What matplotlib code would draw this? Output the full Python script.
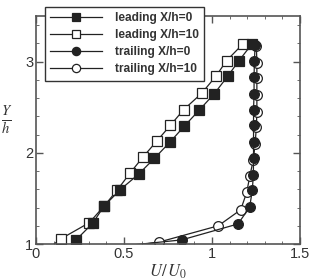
import numpy as np
import matplotlib
matplotlib.use("Agg")
import matplotlib.pyplot as plt
from matplotlib.ticker import MultipleLocator

plt.rcParams['font.family'] = ['Liberation Sans', 'DejaVu Sans']
plt.rcParams['mathtext.fontset'] = 'stix'

# profiles (first point of each lies below y=1, line only)
lead0_u = [0.19, 0.227, 0.322, 0.386, 0.477, 0.583, 0.672, 0.763, 0.843, 0.928, 1.013, 1.089, 1.152, 1.229]
lead0_y = [0.98, 1.044, 1.227, 1.414, 1.593, 1.766, 1.938, 2.121, 2.293, 2.469, 2.648, 2.839, 3.007, 3.198]

lead10_u = [0.09, 0.140, 0.303, 0.386, 0.462, 0.534, 0.606, 0.686, 0.763, 0.839, 0.941, 1.023, 1.083, 1.178]
lead10_y = [0.98, 1.055, 1.234, 1.414, 1.593, 1.777, 1.949, 2.128, 2.300, 2.473, 2.652, 2.842, 3.011, 3.198]

trail0_u = [0.55, 0.828, 1.148, 1.214, 1.229, 1.235, 1.236, 1.236, 1.236, 1.236, 1.239, 1.239, 1.241, 1.245]
trail0_y = [0.99, 1.045, 1.220, 1.405, 1.588, 1.762, 1.945, 2.118, 2.300, 2.470, 2.648, 2.835, 3.007, 3.185]

trail10_u = [0.56, 0.697, 1.036, 1.163, 1.197, 1.215, 1.235, 1.245, 1.252, 1.255, 1.255, 1.255, 1.255, 1.252]
trail10_y = [0.985, 1.020, 1.200, 1.375, 1.565, 1.745, 1.925, 2.100, 2.280, 2.450, 2.630, 2.815, 2.990, 3.170]

labels = ['leading X/h=0', 'leading X/h=10', 'trailing X/h=0', 'trailing X/h=10']

ink = '#222222'
fig = plt.figure(figsize=(3.09, 2.80), dpi=100)
ax = fig.add_axes([36/309, 36/280, 264/309, 228/280])

common = dict(color=ink, lw=0.9, markersize=7, markeredgewidth=0.9,
              markevery=slice(1, None), markeredgecolor=ink)
h2, = ax.plot(lead10_u, lead10_y, marker='s', markerfacecolor='white', **common)
h1, = ax.plot(lead0_u, lead0_y, marker='s', markerfacecolor=ink, **common)
h4, = ax.plot(trail10_u, trail10_y, marker='o', markerfacecolor='white', **common)
h3, = ax.plot(trail0_u, trail0_y, marker='o', markerfacecolor=ink, **common)

ax.set_xlim(0, 1.5)
ax.set_ylim(1, 3.5)
ax.xaxis.set_minor_locator(MultipleLocator(0.1))
ax.yaxis.set_major_locator(MultipleLocator(1))
ax.yaxis.set_minor_locator(MultipleLocator(0.2))
ax.set_xticks([0, 0.5, 1, 1.5])
ax.set_xticklabels(['0', '0.5', '1', '1.5'])
ax.tick_params(which='both', direction='in', top=True, right=True,
               colors='#555555', labelcolor='#333333', labelsize=10.5, pad=2)
ax.tick_params(which='major', length=5, width=1.0)
ax.tick_params(which='minor', length=2.5, width=0.6)
for s in ax.spines.values():
    s.set_color('#555555')
    s.set_linewidth(1.2)

ax.set_xlabel('$U/\\,U_0$', fontsize=12, color='#333333', labelpad=1)
ax.text(-0.11, 0.545, '$\\frac{Y}{h}$', transform=ax.transAxes, fontsize=15,
        color='#333333', ha='center', va='center')

leg = ax.legend([h1, h2, h3, h4], labels, loc='upper left',
                bbox_to_anchor=(0.034, 1.04), borderaxespad=0, fancybox=False,
                framealpha=1, edgecolor='#333333', handlelength=4.3,
                handletextpad=1.1, labelspacing=0.42, borderpad=0.45,
                markerscale=0.85, prop={'size': 8.6, 'weight': 'bold'})
leg.get_frame().set_linewidth(1.0)
for t in leg.get_texts():
    t.set_color('#333333')

fig.savefig('out.png', dpi=100)
